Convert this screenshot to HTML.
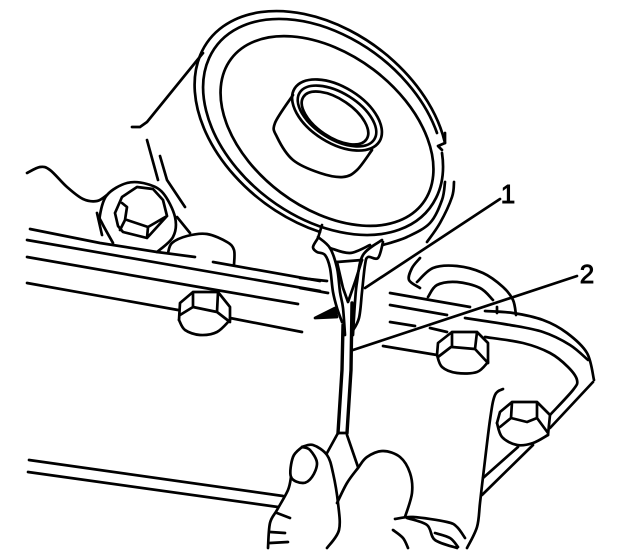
<!DOCTYPE html>
<html>
<head>
<meta charset="utf-8">
<style>
html,body{margin:0;padding:0;background:#fff;width:640px;height:550px;overflow:hidden}
svg{display:block}
path,ellipse{fill:none;stroke:#000;stroke-width:2.7;stroke-linecap:round;stroke-linejoin:round}
text{font-family:"Liberation Sans",sans-serif;font-size:26px;fill:#000;stroke:#000;stroke-width:.9}
</style>
</head>
<body>
<svg id="s" width="640" height="550" viewBox="0 0 640 550" xmlns="http://www.w3.org/2000/svg">
<!-- flange rings -->
<path d="M445 143A141 96 37 1 0 320 232"/>
<path d="M437 133A134 90 37 1 0 442 153"/>
<ellipse cx="327" cy="131" rx="120" ry="77" transform="rotate(37 327 131)"/>
<!-- boss -->
<ellipse cx="337" cy="115" rx="50" ry="28" transform="rotate(32 337 115)"/>
<ellipse cx="337" cy="116" rx="44" ry="23" transform="rotate(32 337 116)"/>
<ellipse cx="335" cy="118" rx="38" ry="19" transform="rotate(34 335 118)"/>
<path d="M445 133V143L438 146L442 150"/>
<!-- straight lines -->
<path d="M132 127H140L147 122L203 53"/>
<path d="M147 140L158 180"/>
<path d="M160 156L167 180L185 207"/>
<path d="M177 217L190 233"/>
<path d="M30 229L100 243L157 252L195 257"/>
<path d="M27 240L320 291"/>
<path d="M27 257L193 286L298 304"/>
<path d="M27 283L178 310"/>
<path d="M230 318L302 332"/>
<path d="M213 262L320 281"/>
<path d="M97 213L102 235"/>
<path d="M300 278L327 281"/>
<path d="M300 288L328 293"/>
<path d="M390 293L470 307"/>
<path d="M390 305L447 315"/>
<path d="M390 322L415 326"/>
<path d="M430 328L447 332"/>
<path d="M383 346L437 355"/>
<path d="M497 307V313"/>
<path d="M29 460L283 496"/>
<path d="M28 472L278 507"/>
<path d="M277 513L290 518"/>
<path d="M270 532L285 533"/>
<path d="M270 543L288 542"/>
<path d="M518 447L483 478"/>
<path d="M533 445L482 495"/>
<path d="M593 382L550 428"/>
<path d="M500 199L365 288"/>
<path d="M577 276L353 350"/>
<!-- bolt 1 -->
<path d="M115 213L122 197L137 187L153 189L163 200L167 216L147 238L123 232L118 226L115 213M122 203L127 207L125 220L120 230M127 220L148 227L147 238M148 227L167 216"/>
<!-- bolt 2 -->
<path d="M193 292H218L230 307V320M193 292L180 303L179 320M193 292V307L217 312L218 292M180 315L193 307M217 312L230 322"/>
<!-- bolt 3 -->
<path d="M452 332H477L488 343V362M452 332L438 343L437 355M452 332V347L475 349L477 332M438 357L451 347M475 349L488 363"/>
<!-- bolt 4 -->
<path d="M512 402H537L550 415L548 435M512 402L500 412L497 423M512 402L511 418L527 422L537 418V402M500 427L511 418M537 418L548 433"/>
<!-- tool lower -->
<path style="stroke-width:3.4" d="M338 433L342 370L343 325"/>
<path style="stroke-width:3.4" d="M347 433L351 370L352 303"/>
<path d="M338 433H347"/>
<path d="M338 433L327 453"/>
<path d="M347 435L358 467"/>
<!-- tool upper -->
<path d="M337 262L362 260"/>
<path d="M337 262L343 288L348 302L355 282L362 260"/>
<path d="M322 225L318 238"/>
<path d="M315 318L335 308L337 317Z" style="fill:#000"/>
</svg>
<svg id="t" width="640" height="550" viewBox="0 0 640 550" style="position:absolute;left:0;top:0" xmlns="http://www.w3.org/2000/svg">
<text x="508" y="203" text-anchor="middle">1</text>
<text x="587" y="283" text-anchor="middle">2</text>
</svg>
<script>
var C=[
[293,95,275,123,277,137,293,160,320,173,343,177,357,170,372,150],
[445,182,442,200,430,223,407,237,383,245],
[454,182,452,197,440,223,427,242],
[27,173,40,167,50,170,67,187,83,199,97,201,107,195],
[113,243,102,223,100,215,107,195,127,183,147,184,163,193,175,217,173,237,157,252],
[168,253,172,243,187,236,207,234,227,242,234,250,234,265],
[230,320,217,332,200,335,185,330,179,320],
[488,362,477,372,457,373,442,367,437,355],
[548,435,533,443,517,445,502,437,497,423],
[420,258,412,268,409,280,420,288],
[417,282,433,268,457,266,483,273,503,287,513,300,516,315],
[428,297,437,285,457,282,480,288,493,300],
[485,311,513,313,543,320,567,333,587,353,594,380],
[465,318,510,325,543,332,570,345,588,360],
[485,337,523,343,550,353,568,367,577,380,573,390,550,415],
[318,238,313,247,317,252,325,255,330,268,333,292,337,308,342,322],
[318,237,330,248,337,268,340,292,343,308,345,335],
[330,248,350,253,370,245],
[383,242,378,258,368,257,365,265,362,292,359,318,352,332],
[382,240,363,255,357,282,355,302,353,335],
[302,447,313,445,327,455,333,473,338,503,339,530,327,548],
[302,447,293,457,291,477,303,483,312,477,317,463,310,450,302,447],
[291,477,288,490,277,510,270,523,268,548],
[337,503,347,483,358,468,367,457,383,451,400,457,410,473,412,493,405,517],
[395,519,413,517,447,522,457,527,465,538],
[407,518,427,525,435,540,457,548],
[435,533,450,538,458,547],
[393,530,403,538,408,548],
[503,389,495,395,490,420,483,477,480,503,477,527,467,548]
];
var svg=document.getElementById('s'),ns='http://www.w3.org/2000/svg';
C.forEach(function(a){
  var p=[];for(var i=0;i<a.length;i+=2)p.push([a[i],a[i+1]]);
  var d='M'+p[0][0]+' '+p[0][1];
  for(i=0;i<p.length-1;i++){
    var p0=p[i-1]||p[i],p1=p[i],p2=p[i+1],p3=p[i+2]||p2;
    d+='C'+(p1[0]+(p2[0]-p0[0])/6).toFixed(1)+' '+(p1[1]+(p2[1]-p0[1])/6).toFixed(1)+' '+
       (p2[0]-(p3[0]-p1[0])/6).toFixed(1)+' '+(p2[1]-(p3[1]-p1[1])/6).toFixed(1)+' '+p2[0]+' '+p2[1];
  }
  var e=document.createElementNS(ns,'path');e.setAttribute('d',d);svg.appendChild(e);
});
</script>
</body>
</html>
